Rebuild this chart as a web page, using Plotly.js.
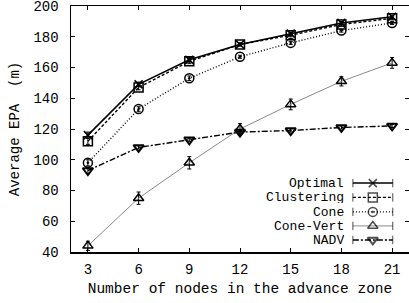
<!DOCTYPE html>
<html><head><meta charset="utf-8">
<script src="https://cdn.plot.ly/plotly-3.0.1.min.js"></script>
<style>html,body{margin:0;padding:0;background:#fff}#chart{width:409px;height:303px}</style>
</head><body><div id="chart"></div>
<script>
var nodes = [3, 6, 9, 12, 15, 18, 21];
var seriesNames = ['Optimal', 'Clustering', 'Cone', 'Cone-Vert', 'NADV'];
var optimal    = [116, 149, 165, 175, 182, 189, 193];
var clustering = [112, 147, 164, 175, 181, 188, 192];
var cone       = [98, 133, 153, 167, 176, 184, 189];
var coneVert   = [44, 75, 98, 120, 136, 151, 163];
var nadv       = [93, 108, 113, 118, 119, 121, 122];
var optimalErr    = [2, 1.5, 1.5, 1, 1, 1, 1];
var clusteringErr = [2, 1.5, 1.5, 1, 1, 1, 1];
var coneErr       = [2, 1.5, 1.5, 1, 1, 1, 1];
var coneVertErr   = [3, 4, 4, 3.5, 3.5, 3, 3.5];
var nadvErr       = [2, 1, 1, 1, 1, 1, 1];
var yTicks = [40, 60, 80, 100, 120, 140, 160, 180, 200];

var FONT = 'Liberation Mono, Courier New, monospace';
var styles = [
  {color:'#000', width:1.5, dash:'solid', symbol:'x-thin-open', msize:8, mw:1.6},
  {color:'#000', width:1.4, dash:'3px,2px', symbol:'square-open', msize:9, mw:1.5},
  {color:'#000', width:1.4, dash:'1px,2px', symbol:'circle-open-dot', msize:9, mw:1.5},
  {color:'#8a8a8a', width:1, dash:'solid', symbol:'triangle-up-open', msize:9, mw:1.5, mcolor:'#000'},
  {color:'#000', width:1.4, dash:'6px,2px,2px,2px', symbol:'triangle-down-open', msize:9, mw:2}
];
var values = [optimal, clustering, cone, coneVert, nadv];
var errs = [optimalErr, clusteringErr, coneErr, coneVertErr, nadvErr];

var traces = [];
for (var i = 0; i < values.length; i++) {
  var s = styles[i];
  traces.push({
    x: nodes, y: values[i], type: 'scatter', mode: 'lines+markers', name: seriesNames[i],
    showlegend: false,
    line: {color: s.color, width: s.width, dash: s.dash},
    marker: {symbol: s.symbol, size: s.msize, color: s.mcolor || s.color, line: {color: s.mcolor || s.color, width: s.mw}},
    error_y: {type: 'data', array: errs[i], visible: true, color: s.mcolor || s.color, thickness: 1, width: 2}
  });
}
// custom legend (text left, sample right), drawn on a hidden overlay axis
var legY = [0.28, 0.222, 0.163, 0.106, 0.049];
var annotations = [];
for (var j = 0; j < seriesNames.length; j++) {
  var st = styles[j];
  traces.push({
    x: [0.834, 0.893, 0.952], y: [legY[j], legY[j], legY[j]], xaxis: 'x2', yaxis: 'y2',
    type: 'scatter', mode: 'lines+markers', showlegend: false, hoverinfo: 'skip',
    line: {color: st.color, width: st.width, dash: st.dash},
    marker: {symbol: ['line-ns-open', st.symbol, 'line-ns-open'], size: [6, st.msize, 6],
             color: st.mcolor || st.color, line: {color: st.mcolor || st.color, width: [1, st.mw, 1]}}
  });
  annotations.push({xref: 'x2', yref: 'y2', x: 0.81, y: legY[j], text: seriesNames[j],
    showarrow: false, xanchor: 'right', yanchor: 'middle', height: 12, borderpad: 0,
    font: {family: FONT, size: 13, color: '#000'}});
}

var layout = {
  width: 409, height: 303,
  margin: {l: 71, r: 0, t: 6, b: 51},
  paper_bgcolor: '#fff', plot_bgcolor: '#fff',
  font: {family: FONT, size: 14, color: '#000'},
  showlegend: false,
  xaxis: {
    range: [2, 22], tickvals: nodes, ticks: 'inside', ticklen: 4, tickcolor: '#000',
    showline: true, linecolor: '#000', linewidth: 1.5, mirror: 'allticks', showgrid: false, zeroline: false,
    tickfont: {family: FONT, size: 14}, ticklabelstandoff: 4,
    title: {text: 'Number of nodes in the advance zone', font: {family: FONT, size: 14.5}, standoff: 5}
  },
  yaxis: {
    range: [39.99, 200.01], tickvals: yTicks, ticks: 'inside', ticklen: 4, tickcolor: '#000',
    showline: true, linecolor: '#000', linewidth: 1.5, mirror: 'allticks', showgrid: false, zeroline: false,
    tickfont: {family: FONT, size: 14}, ticklabelstandoff: 8, ticklabeloverflow: 'allow',
    title: {text: 'Average EPA  (m)', font: {family: FONT, size: 14}, standoff: 10}
  },
  xaxis2: {overlaying: 'x', anchor: 'y2', range: [0, 1], visible: false, fixedrange: true},
  yaxis2: {overlaying: 'y', anchor: 'x2', range: [0, 1], visible: false, fixedrange: true},
  annotations: annotations
};
Plotly.newPlot('chart', traces, layout, {displayModeBar: false, staticPlot: true});
</script></body></html>
